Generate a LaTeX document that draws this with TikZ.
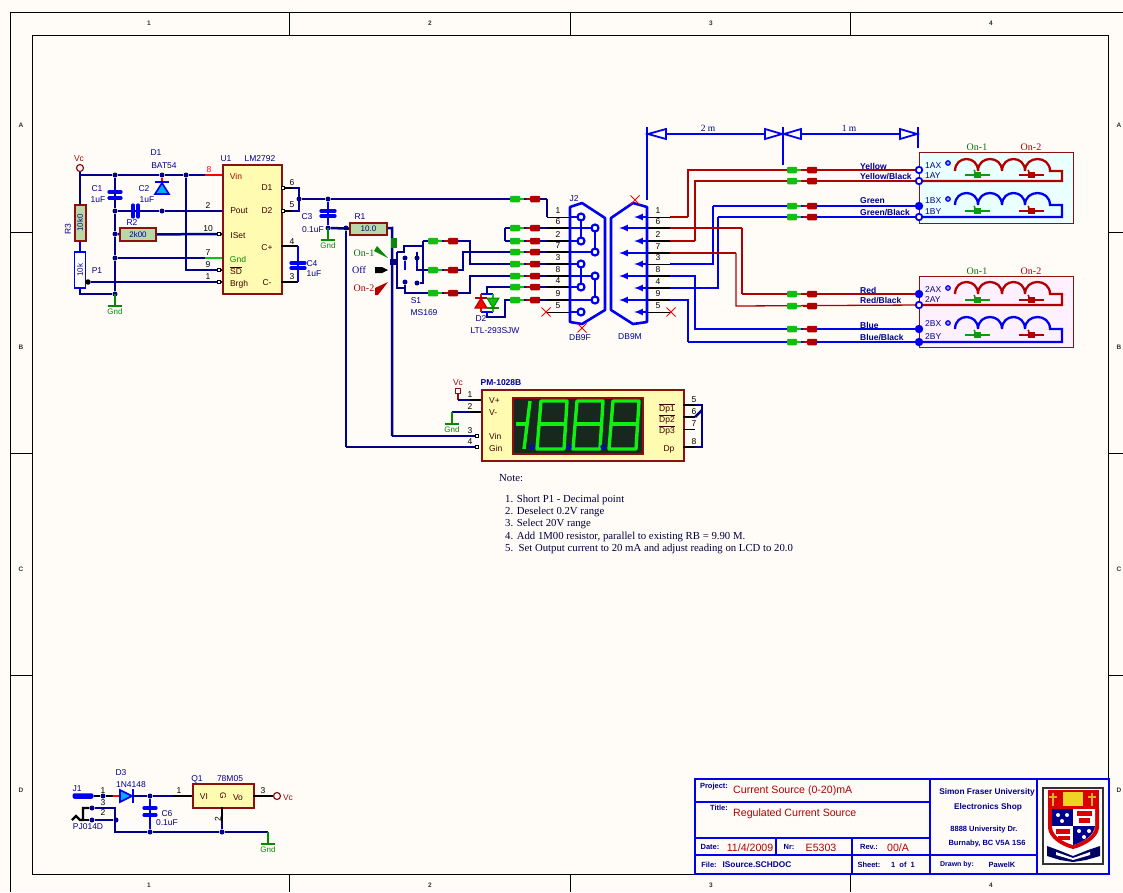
\documentclass[tikz,border=0pt]{standalone}
\usepackage{fontspec}
\setmainfont{Liberation Sans}
\newfontfamily\notefont{Liberation Serif}
\usetikzlibrary{shapes.misc}
\definecolor{paper}{HTML}{FFFCF7}
\definecolor{navy}{HTML}{00008C}
\definecolor{pure}{HTML}{0000F0}
\definecolor{maroon}{HTML}{8C1010}
\definecolor{wred}{HTML}{B00000}
\definecolor{chip}{HTML}{FFFBB0}
\definecolor{resfill}{HTML}{B8D8A8}
\definecolor{gndgreen}{HTML}{008C00}
\definecolor{plgreen}{HTML}{10C010}
\definecolor{lcdback}{HTML}{18281E}
\definecolor{lcdseg}{HTML}{10F010}
\definecolor{cyanbox}{HTML}{EAFFFF}
\definecolor{pinkbox}{HTML}{FFF0FF}
\tikzstyle{frame} = [draw=black, line width=1pt]
\tikzstyle{zone} = [font={\fontsize{6.5}{7}\selectfont\bfseries}, inner sep=0pt, text=black!80]
\tikzstyle{lbl} = [font={\fontsize{8.5}{9}\selectfont}, inner sep=0pt, text=navy]
\tikzstyle{pinlbl} = [font={\fontsize{8.5}{9}\selectfont}, inner sep=0pt, text=black!75!red]
\tikzstyle{pinnum} = [font={\fontsize{8.5}{9}\selectfont}, inner sep=0pt, text=black]
\tikzstyle{gndlbl} = [font={\fontsize{8}{9}\selectfont}, inner sep=0pt, text=gndgreen]
\tikzstyle{wirelbl} = [font={\fontsize{8.5}{9}\selectfont\bfseries}, inner sep=0pt, text=navy, anchor=west]
\tikzstyle{serif} = [font={\fontsize{10}{11}\selectfont\notefont}, inner sep=0pt]
\tikzstyle{notetxt} = [font={\fontsize{10.75}{11}\selectfont\notefont}, inner sep=0pt, anchor=west, text=black!75!blue]
\tikzstyle{wthick} = [draw=navy, line width=2.5pt]
\tikzstyle{wthin} = [draw=navy, line width=1.3pt]
\tikzstyle{redthick} = [draw=wred, line width=2.7pt]
\tikzstyle{redthin} = [draw=wred, line width=1.3pt]
\tikzstyle{bluethick} = [draw=pure, line width=2.7pt]
\tikzstyle{bluethin} = [draw=pure, line width=1.3pt]
\tikzstyle{pinthick} = [draw=black, line width=2.4pt]
\tikzstyle{pinthin} = [draw=black, line width=0.9pt]
\tikzstyle{gndwire} = [draw=gndgreen, line width=1.8pt]
\tikzstyle{gndbar} = [draw=gndgreen, line width=2.6pt]
\tikzstyle{plate} = [draw=pure, line width=3.2pt, line cap=round]
\tikzstyle{dot} = [circle, fill=navy, inner sep=0pt, minimum size=5pt]
\tikzstyle{bub} = [draw=black, fill=white, line width=0.7pt, inner sep=0pt, minimum size=3.5pt]
\tikzstyle{ic} = [draw=maroon, fill=chip, line width=2.2pt, anchor=north west, inner sep=0pt]
\tikzstyle{res} = [draw=maroon, fill=resfill, line width=2pt, font={\fontsize{8}{9}\selectfont}, text=navy, inner sep=0pt]
\tikzstyle{plugg} = [fill=plgreen, rounded corners=1pt, minimum width=10pt, minimum height=6.5pt, inner sep=0pt]
\tikzstyle{plugr} = [fill=wred, rounded corners=1pt, minimum width=10pt, minimum height=6.5pt, inner sep=0pt]
\tikzstyle{noconn} = [cross out, draw=red, minimum size=8pt, inner sep=0pt, line width=1pt]
\tikzstyle{term} = [circle, draw=pure, fill=white, line width=1.8pt, inner sep=0pt, minimum size=6.5pt]
\tikzstyle{termf} = [term, fill=pure]
\tikzstyle{dsub} = [draw=pure, line width=2.6pt, line join=round]
\tikzstyle{socket} = [circle, draw=pure, fill=white, line width=2.2pt, inner sep=0pt, minimum size=7pt]
\tikzstyle{seg} = [draw=lcdseg, line width=3.4pt, line join=round]
\tikzstyle{tbox} = [draw=pure, line width=1.7pt]
\tikzstyle{tlbl} = [font={\fontsize{7.5}{8}\selectfont\bfseries}, inner sep=0pt, text=navy]
\tikzstyle{orglbl} = [font={\fontsize{8.3}{9}\selectfont\bfseries}, inner sep=0pt, text=navy]
\tikzstyle{tval} = [font={\fontsize{10.6}{11}\selectfont}, inner sep=0pt, text=wred]
\newcommand{\plugpair}[3]{
    \node[plugg] (#1g) at (#2,#3) {};
    \node[plugr] (#1r) at (#2+20,#3) {};
    \draw[draw=plgreen, line width=1.8pt] (#1g) -- +(9,0);
    \draw[draw=wred, line width=1.8pt] (#1r) -- +(-9,0);
}
\newcommand{\gndmark}[3]{
    \coordinate (#1bar) at (#2,#3+12);
    \draw[gndwire] (#2,#3) -- (#1bar);
    \draw[gndbar] (#2-7,#3+12) -- (#2+7,#3+12);
    \node[gndlbl] (#1txt) at (#2,#3+18) {Gnd};
}
\newcommand{\drawcoil}[3]{
    \draw[draw=#3, line width=2.3pt] (955,#2) .. controls (955,#2-16) and (978,#2-16) .. (978,#2)
        .. controls (978,#2-16) and (1002,#2-16) .. (1002,#2)
        .. controls (1002,#2-16) and (1025,#2-16) .. (1025,#2)
        .. controls (1025,#2-16) and (1050,#2-16) .. (1050,#2) -- (1062,#2) -- (1062,#1) -- (919,#1);
}
\newcommand{\coilarrow}[4]{
    \node[fill=#4, minimum width=7pt, minimum height=6pt, inner sep=0pt] (#1) at (#2,#3) {};
    \draw[draw=#4, line width=1.8pt] (#2-12,#3) -- (#2+13,#3);
    \draw[draw=#4, line width=1.6pt] (#1) -- +(-3,-5);
}
\newcommand{\eightseg}[1]{
    \draw[seg] (#1+4,401) -- (#1+30,401) -- (#1+27,449) -- (#1,449) -- cycle;
    \draw[seg] (#1+2,424) -- (#1+28,424);
}

\begin{document}
\begin{tikzpicture}[x=1pt,y=-1pt]
    \useasboundingbox[fill=paper] (0,0) rectangle (1123,892);
    \draw[frame] (10,892) -- (10,12) -- (1123,12);
    \draw[frame] (32,35) rectangle (1108,874);
    \foreach \tx in {289,570,850} {
        \draw[frame] (\tx,12) -- (\tx,35);
        \draw[frame] (\tx,874) -- (\tx,892);
    }
    \foreach \ty in {232,453,675} {
        \draw[frame] (10,\ty) -- (32,\ty);
        \draw[frame] (1108,\ty) -- (1123,\ty);
    }
    \foreach \zn/\zx in {1/149,2/430,3/711,4/991} {
        \node[zone] (zt\zn) at (\zx,23) {\zn};
        \node[zone] (zb\zn) at (\zx,885) {\zn};
    }
    \foreach \zn/\zy in {A/125,B/347,C/569,D/790} {
        \node[zone] (zl\zn) at (21,\zy) {\zn};
        \node[zone] (zr\zn) at (1119,\zy) {\zn};
    }

    \node[ic, minimum width=59pt, minimum height=129pt] (U1) at (222,164) {};
    \node[lbl] (U1ref) at (226,159) {U1};
    \node[lbl] (U1val) at (260,159) {LM2792};
    \node[pinlbl, text=wred] (U1vin) at (236,176) {Vin};
    \node[pinlbl] (U1pout) at (239,211) {Pout};
    \node[pinlbl] (U1iset) at (238,236) {ISet};
    \node[pinlbl, text=gndgreen] (U1gnd) at (238,259) {Gnd};
    \node[pinlbl] (U1sd) at (236,271) {$\overline{\mbox{SD}}$};
    \node[pinlbl] (U1brgh) at (239,284) {Brgh};
    \node[pinlbl] (U1d1) at (267,188) {D1};
    \node[pinlbl] (U1d2) at (267,211) {D2};
    \node[pinlbl] (U1cp) at (267,248) {C+};
    \node[pinlbl] (U1cm) at (267,283) {C-};

    \coordinate (jvin) at (205,175);
    \coordinate (pvin) at (222,175);
    \coordinate (pgnd) at (222,258);
    \coordinate (jgnd) at (205,258);
    \node[circle, draw=maroon, fill=paper, line width=1.2pt, inner sep=0pt, minimum size=7pt] (vc1) at (80,168) {};
    \node[lbl, text=maroon] (vc1txt) at (79,159) {Vc};
    \node[dot] (n1) at (115,175) {};
    \node[dot] (n2) at (162,175) {};
    \node[dot] (n3) at (186,175) {};
    \node[dot] (n4) at (115,211) {};
    \node[dot] (n5) at (162,211) {};
    \node[dot] (n6) at (115,234) {};
    \node[dot] (n7) at (115,258) {};
    \node[dot] (n8) at (115,294) {};
    \draw[wthick] (vc1) -- (80,175) -- (n1);
    \draw[wthick] (n1) -- (n2) -- (n3) -- (jvin);
    \draw[draw=red, line width=1.2pt] (jvin) -- (pvin);
    \draw[wthick] (n1) -- (n4) -- (n6) -- (n7) -- (n8);
    \draw[wthick] (n4) -- (n5) -- (222,211);
    \draw[wthin] (n7) -- (jgnd);
    \draw[draw=plgreen, line width=1.2pt] (jgnd) -- (pgnd);
    \draw[wthin] (n3) -- (186,270) -- (222,270);
    \node[res, minimum width=36pt, minimum height=13pt] (R2) at (138,234.5) {2k00};
    \draw[wthick] (n6) -- (R2) -- (222,234);
    \node[lbl] (R2ref) at (132,223) {R2};
    \node[res, rotate=90, minimum width=36pt, minimum height=11pt] (R3) at (80,223) {10k0};
    \node[lbl, rotate=90] (R3ref) at (68,229) {R3};
    \node[draw=pure, fill=white, line width=1.7pt, rotate=90, minimum width=36pt, minimum height=11pt, inner sep=0pt, text=navy, font={\fontsize{8}{9}\selectfont}] (P1) at (80,270) {10k};
    \node[lbl] (P1ref) at (97,271) {P1};
    \draw[wthick] (vc1) -- (R3);
    \draw[draw=pure, line width=2.4pt] (R3) -- (P1);
    \node[circle, fill=black, inner sep=0pt, minimum size=5.5pt] (P1w) at (88,282) {};
    \draw[wthick] (P1w) -- (222,282);
    \draw[wthick] (P1) -- (80,294) -- (n8);
    \gndmark{g1}{115}{294}
    \node[lbl] (C1ref) at (97,189) {C1};
    \node[lbl] (C1val) at (98,200) {1uF};
    \node[lbl] (C2ref) at (144,189) {C2};
    \node[lbl] (C2val) at (147,200) {1uF};
    \node[lbl] (D1ref) at (156,153) {D1};
    \node[lbl] (D1val) at (164,166) {BAT54};
    \draw[plate] (109,192) -- (121,192);
    \draw[plate] (109,198) -- (121,198);
    \draw[plate] (133,205) -- (133,217);
    \draw[plate] (138,205) -- (138,217);
    \draw[draw=red, line width=1.8pt] (n2) -- (162,182);
    \draw[draw=pure, fill=cyan, line width=1.6pt] (155,194) -- (169,194) -- (162,183) -- cycle;
    \draw[draw=pure, line width=2pt] (155,182) -- (169,182);

    \foreach \pn/\py in {2/211,10/234,7/258,9/270,1/282} {
        \node[pinnum] (un\pn) at (208,\py-5) {\pn};
    }
    \node[pinnum, text=red] (un8) at (209,170) {8};
    \node[bub] (bset) at (219,234) {};
    \node[bub] (bsd) at (219,270) {};
    \node[bub] (bbr) at (219,282) {};
    \node[bub] (bd1) at (283,188) {};
    \node[bub] (bd2) at (283,211) {};
    \coordinate (cpout) at (281,246);
    \coordinate (cmout) at (281,282);
    \node[dot] (n9) at (299,199) {};
    \draw[pinthick] (bd1) -- (292,188);
    \draw[pinthick] (bd2) -- (292,211);
    \draw[wthick] (292,188) -- (299,188) -- (299,211) -- (292,211);
    \draw[pinthick] (cpout) -- (298,246);
    \draw[pinthick] (cmout) -- (298,282);
    \draw[draw=pure, line width=2pt] (298,246) -- (298,282);
    \draw[plate] (291,263) -- (305,263);
    \draw[plate] (291,268) -- (305,268);
    \foreach \pn/\py in {6/183,5/205,4/242,3/277} {
        \node[pinnum] (ur\pn) at (292,\py) {\pn};
    }
    \node[lbl] (C4ref) at (312,264) {C4};
    \node[lbl] (C4val) at (314,274) {1uF};

    \foreach \pn/\py/\pw in {1/217/pinthin,6/228/pinthick,2/241/pinthick,7/252/pinthick,3/264/pinthick,8/276/pinthick,4/287/pinthick,9/300/pinthick,5/312/pinthin} {
        \coordinate (jp\pn) at (547,\py);
        \coordinate (jf\pn) at (570,\py);
        \draw[\pw] (jp\pn) -- (jf\pn);
        \node[pinnum] (jn\pn) at (558,\py-6) {\pn};
    }
    \foreach \pn/\py/\pw in {1/217/pinthin,6/228/pinthick,2/241/pinthick,7/253/pinthick,3/264/pinthin,8/276/pinthick,4/288/pinthick,9/300/pinthick,5/312/pinthin} {
        \coordinate (mp\pn) at (670,\py);
        \coordinate (mf\pn) at (647,\py);
        \draw[\pw] (mf\pn) -- (mp\pn);
        \node[pinnum] (mn\pn) at (658,\py-6) {\pn};
    }

    \coordinate (t1ax) at (919,170);
    \coordinate (t1ay) at (919,181);
    \coordinate (t1bx) at (919,206);
    \coordinate (t1by) at (919,217);
    \coordinate (t2ax) at (919,294);
    \coordinate (t2ay) at (919,305);
    \coordinate (t2bx) at (919,329);
    \coordinate (t2by) at (919,342);
    \node[dot] (n10) at (328,199) {};
    \draw[wthick] (n9) -- (n10) -- (547,199);
    \draw[wthin] (547,199) -- (jp1);
    \node[dot] (n11) at (328,228) {};
    \node[dot] (n12) at (346,228) {};
    \draw[draw=pure, line width=2pt] (n10) -- (n11);
    \draw[plate] (321,211) -- (335,211);
    \draw[plate] (321,216) -- (335,216);
    \gndmark{g2}{328}{228}
    \node[lbl] (C3ref) at (307,217) {C3};
    \node[lbl] (C3val) at (313,230) {0.1uF};
    \node[res, minimum width=37pt, minimum height=12pt] (R1) at (368.5,229) {10.0};
    \node[lbl] (R1ref) at (360,217) {R1};
    \draw[wthick] (n11) -- (R1);
    \coordinate (glo) at (346,447);
    \coordinate (vhi) at (392,436);
    \draw[wthin] (n12) -- (glo);
    \draw[wthick] (R1) -- (392,228) -- (vhi);

    \node[serif, text=plgreen!60!black] (on1txt) at (364,253) {On-1};
    \node[serif, text=navy] (offtxt) at (359,270) {Off};
    \node[serif, text=wred] (on2txt) at (364,288) {On-2};
    \fill[plgreen!70!black] (374,251) -- (377,246) -- (388,258) -- cycle;
    \fill[black] (375,267) -- (382,267) -- (388,270) -- (382,273) -- (375,273) -- cycle;
    \fill[wred] (375,288) -- (388,282) -- (378,295) -- (375,295) -- cycle;
    \fill[plgreen!70!black] (391,238) rectangle (397,248);
    \node[rectangle, fill=navy, inner sep=0pt, minimum size=6pt] (swc) at (393,262) {};
    \node[dot] (s1) at (405,258) {};
    \node[dot] (s2) at (417,258) {};
    \node[dot] (s3) at (405,282) {};
    \node[dot] (s4) at (417,283) {};
    \draw[wthick] (397,252) -- (404,252) -- (404,246) -- (423,246) -- (423,241);
    \draw[wthick] (397,252) -- (397,288) -- (405,288);
    \draw[wthick] (s3) -- (405,293) -- (428,293);
    \draw[wthick] (417,252) -- (s2);
    \draw[wthick] (417,252) -- (417,270) -- (428,270);
    \draw[wthick] (423,246) -- (423,283) -- (s4);
    \draw[draw=pure, line width=1.8pt] (s1) -- (405,270);
    \draw[draw=pure, line width=1.8pt] (s2) -- (417,266);
    \node[lbl] (S1ref) at (416,301) {S1};
    \node[lbl] (S1val) at (424,313) {MS169};
    \draw[wthick] (423,241) -- (470,241) -- (470,264) -- (jp3);
    \draw[wthick] (428,270) -- (463,270) -- (463,252) -- (jp7);
    \draw[wthick] (428,293) -- (470,293) -- (470,276) -- (jp8);
    \draw[wthick] (505,228) -- (505,241);
    \draw[wthick] (505,228) -- (jp6);
    \draw[wthick] (505,241) -- (jp2);
    \draw[wthick] (jp4) -- (487,287) -- (487,294);
    \draw[wthick] (jp9) -- (505,300) -- (505,317) -- (487,317) -- (487,312);
    \draw[draw=pure, line width=1.8pt] (481,294) -- (493,294);
    \draw[draw=pure, line width=1.8pt] (481,312) -- (493,312);
    \draw[draw=red, line width=1.4pt] (481,294) -- (481,312);
    \draw[draw=plgreen, line width=1.4pt] (493,294) -- (493,312);
    \draw[draw=wred, fill=red, line width=1pt] (475,308) -- (487,308) -- (481,298) -- cycle;
    \draw[draw=wred, line width=2pt] (475,298) -- (487,298);
    \draw[draw=plgreen!70!black, fill=plgreen, line width=1pt] (487,298) -- (499,298) -- (493,308) -- cycle;
    \draw[draw=plgreen!70!black, line width=2pt] (487,308) -- (499,308);
    \node[lbl] (D2ref) at (481,319) {D2};
    \node[lbl] (D2val) at (495,331) {LTL-293SJW};

    \plugpair{pa}{515}{199}
    \plugpair{pb}{515}{228}
    \plugpair{pc}{515}{241}
    \plugpair{pd}{515}{252}
    \plugpair{pe}{515}{264}
    \plugpair{pf}{515}{276}
    \plugpair{pg}{515}{287}
    \plugpair{ph}{515}{300}
    \plugpair{pi}{433}{241}
    \plugpair{pj}{433}{270}
    \plugpair{pk}{433}{293}

    \draw[dsub] (570,207) -- (582,203) -- (605,218) -- (605,310) -- (582,324) -- (570,322) -- cycle;
    \draw[draw=pure, line width=1.5pt] (581,217) -- (581,240);
    \draw[draw=pure, line width=1.5pt] (595,228) -- (595,253);
    \draw[draw=pure, line width=1.5pt] (581,263) -- (581,287);
    \draw[draw=pure, line width=1.5pt] (595,276) -- (595,299);
    \foreach \pn/\py in {1/217,2/241,3/264,4/287,5/312} {
        \draw[draw=pure, line width=2pt] (jf\pn) -- (581,\py);
        \node[socket] (sk\pn) at (581,\py) {};
    }
    \foreach \pn/\py in {6/228,7/252,8/276,9/300} {
        \draw[draw=pure, line width=2pt] (jf\pn) -- (595,\py);
        \node[socket] (sk\pn) at (595,\py) {};
    }
    \node[lbl] (J2ref) at (574,199) {J2};
    \node[lbl] (DBF) at (580,338) {DB9F};
    \node[noconn] (xa) at (582,328) {};
    \node[noconn] (xb) at (546,312) {};

    \draw[dsub] (611,218) -- (633,203) -- (647,207) -- (647,322) -- (633,324) -- (611,310) -- cycle;
    \foreach \pn/\py in {1/217,2/241,3/264,4/288,5/312} {
        \coordinate (mt\pn) at (634,\py);
        \draw[draw=pure, line width=2pt, -latex] (mf\pn) -- (mt\pn);
    }
    \foreach \pn/\py in {6/228,7/253,8/276,9/300} {
        \coordinate (mt\pn) at (619,\py);
        \draw[draw=pure, line width=2pt, -latex] (mf\pn) -- (mt\pn);
    }
    \node[lbl] (DBM) at (630,337) {DB9M};
    \node[noconn] (xc) at (635,200) {};
    \node[noconn] (xd) at (671,312) {};

    \node[draw=maroon, fill=cyanbox, line width=1.4pt, anchor=north west, minimum width=154pt, minimum height=71pt, inner sep=0pt] (boxa) at (919,152) {};
    \node[draw=maroon, fill=pinkbox, line width=1.4pt, anchor=north west, minimum width=154pt, minimum height=71pt, inner sep=0pt] (boxb) at (919,276) {};

    \draw[redthin] (mp1) -- (688,217);
    \draw[redthick] (688,217) -- (688,170) -- (t1ax);
    \draw[redthick] (mp2) -- (695,241);
    \draw[redthin] (695,241) -- (695,181) -- (t1ay);
    \draw[bluethin] (mp3) -- (713,264) -- (713,206);
    \draw[bluethick] (713,206) -- (t1bx);
    \draw[bluethick] (mp4) -- (718,288) -- (718,217);
    \draw[bluethin] (718,217) -- (t1by);
    \draw[redthick] (mp6) -- (742,228);
    \draw[redthin] (742,228) -- (742,294);
    \draw[redthick] (742,294) -- (t2ax);
    \draw[redthick] (mp7) -- (736,253);
    \draw[redthin] (736,253) -- (736,306) -- (t2ay);
    \draw[bluethick] (mp8) -- (695,276) -- (695,329) -- (t2bx);
    \draw[bluethick] (mp9) -- (688,300) -- (688,342);
    \draw[bluethin] (688,342) -- (t2by);
    \plugpair{qa}{792}{170}
    \plugpair{qb}{792}{181}
    \plugpair{qc}{792}{206}
    \plugpair{qd}{792}{217}
    \plugpair{qe}{792}{294}
    \plugpair{qf}{792}{306}
    \plugpair{qg}{792}{329}
    \plugpair{qh}{792}{342}

    \coordinate (dima) at (647,134);
    \coordinate (dimb) at (783,134);
    \coordinate (dimc) at (918,134);
    \draw[draw=pure, line width=2.2pt] (647,127) -- (647,200);
    \draw[draw=pure, line width=1.1pt] (783,127) -- (783,165);
    \draw[draw=pure, line width=2.2pt] (918,127) -- (918,148);
    \draw[draw=pure, line width=1.2pt] (dima) -- (dimb) -- (dimc);
    \foreach \ax/\bx in {648/666,782/765,784/801,917/900} {
        \draw[draw=pure, fill=paper, line width=1.8pt] (\ax,134) -- (\bx,129) -- (\bx,139) -- cycle;
    }
    \node[pinnum, font={\fontsize{9.5}{10}\selectfont\notefont}, text=navy] (dim2) at (708,128) {2 m};
    \node[pinnum, font={\fontsize{9.5}{10}\selectfont\notefont}, text=navy] (dim1) at (849,128) {1 m};

    \node[wirelbl] (la) at (860,166) {Yellow};
    \node[wirelbl] (lb) at (860,176) {Yellow/Black};
    \node[wirelbl] (lc) at (860,201) {Green};
    \node[wirelbl] (ld) at (860,212) {Green/Black};
    \node[wirelbl] (le) at (860,290) {Red};
    \node[wirelbl] (lf) at (860,300) {Red/Black};
    \node[wirelbl] (lg) at (860,325) {Blue};
    \node[wirelbl] (lh) at (860,337) {Blue/Black};

    \drawcoil{181}{171}{wred}
    \drawcoil{217}{205}{pure}
    \drawcoil{305}{294}{wred}
    \drawcoil{342}{329}{pure}
    \foreach \tn/\ty/\tk in {ta/170/term,tb/181/term,tc/206/termf,td/217/term,te/294/termf,tf/305/term,tg/329/termf,th/342/termf} {
        \node[\tk] (\tn) at (919,\ty) {};
    }
    \draw[draw=wred, line width=1.6pt] (ta) -- (t1ax);
    \foreach \pn/\py/\pt in {pa/166/1AX,pb/176/1AY,pc/201/1BX,pd/212/1BY,pe/290/2AX,pf/300/2AY,pg/324/2BX,ph/337/2BY} {
        \node[pinlbl, text=navy, anchor=west] (\pn t) at (925,\py) {\pt};
    }
    \foreach \dn/\dy in {da/163,db/199,dc/288,dd/323} {
        \node[circle, draw=pure, fill=pure!40, line width=1.2pt, inner sep=0pt, minimum size=4.5pt] (\dn) at (948,\dy) {};
    }
    \coilarrow{ca}{977}{175}{plgreen!80!black}
    \coilarrow{cb}{1031}{175}{wred}
    \coilarrow{cc}{977}{211}{plgreen!80!black}
    \coilarrow{cd}{1031}{211}{wred}
    \coilarrow{ce}{977}{300}{plgreen!80!black}
    \coilarrow{cf}{1031}{300}{wred}
    \coilarrow{cg}{977}{335}{plgreen!80!black}
    \coilarrow{ch}{1031}{335}{wred}
    \foreach \on/\oy in {a/147,b/271} {
        \node[serif, text=plgreen!60!black] (ona\on) at (977,\oy) {On-1};
        \node[serif, text=wred] (onb\on) at (1031,\oy) {On-2};
    }

    \node[ic, minimum width=202pt, minimum height=71pt] (PM) at (481,389) {};
    \node[lbl, font={\fontsize{8.5}{9}\selectfont\bfseries}] (PMref) at (501,383) {PM-1028B};
    \node[draw=maroon, fill=lcdback, line width=1.8pt, anchor=north west, minimum width=130pt, minimum height=56pt, inner sep=0pt] (LCD) at (512,397) {};
    \draw[seg] (516,424) -- (528,424);
    \draw[seg] (530,401) -- (524,449);
    \eightseg{537}
    \eightseg{573}
    \eightseg{609}
    \foreach \dx in {532,569,603} {
        \draw[draw=pure, line width=1.2pt] (\dx,447) circle[radius=2pt];
    }
    \foreach \pn/\py/\pt in {1/401/V+,2/413/V-,3/436/Vin,4/448/Gin} {
        \node[pinlbl, anchor=west] (ml\pn) at (489,\py) {\pt};
    }
    \node[pinlbl] (Dp1) at (667,408) {$\overline{\mbox{Dp1}}$};
    \node[pinlbl] (Dp2) at (667,419) {$\overline{\mbox{Dp2}}$};
    \node[pinlbl] (Dp3) at (667,430) {$\overline{\mbox{Dp3}}$};
    \node[pinlbl] (Dp) at (669,449) {Dp};
    \foreach \pn/\py in {1/395,2/407,3/431,4/442} {
        \node[pinnum] (mm\pn) at (470,\py) {\pn};
    }
    \foreach \pn/\py in {5/400,6/412,7/424,8/442} {
        \node[pinnum] (mq\pn) at (694,\py) {\pn};
    }
    \node[rectangle, draw=maroon, fill=paper, line width=1.2pt, inner sep=0pt, minimum size=5pt] (vc2) at (458,391) {};
    \node[lbl, text=maroon] (vc2txt) at (458,383) {Vc};
    \draw[draw=maroon, line width=1.2pt] (vc2) -- (458,400);
    \draw[wthick] (458,400) -- (470,400);
    \draw[pinthick] (470,400) -- (481,400);
    \draw[wthick] (452,412) -- (470,412);
    \draw[pinthick] (470,412) -- (481,412);
    \gndmark{g3}{452}{412}
    \draw[wthick] (vhi) -- (478,436);
    \draw[wthick] (glo) -- (478,447);
    \node[bub] (bvin) at (477,436) {};
    \node[bub] (bgin) at (477,447) {};
    \draw[pinthick] (683,405) -- (695,405);
    \draw[pinthick] (683,417) -- (695,417);
    \draw[pinthin] (683,429) -- (695,429);
    \draw[pinthick] (683,447) -- (695,447);
    \draw[wthick] (695,405) -- (702,405) -- (702,447) -- (695,447);
    \draw[wthick] (695,417) -- (702,410);

    \node[notetxt] (note0) at (499,478) {Note:};
    \node[notetxt] (note1) at (505,500) {1. Short P1 - Decimal point};
    \node[notetxt] (note2) at (505,512) {2. Deselect 0.2V range};
    \node[notetxt] (note3) at (505,524) {3. Select 20V range};
    \node[notetxt] (note4) at (505,537) {4. Add 1M00 resistor, parallel to existing RB = 9.90 M.};
    \node[notetxt] (note5) at (505,549) {5.\ \ Set Output current to 20 mA and adjust reading on LCD to 20.0};

    \node[fill=pure, rounded corners=2pt, minimum width=21pt, minimum height=5.5pt, inner sep=0pt] (J1plug) at (83,796) {};
    \node[lbl] (J1ref) at (77,789) {J1};
    \node[lbl] (J1val) at (88,827) {PJ014D};
    \node[dot] (k1) at (103,796) {};
    \node[dot] (k2) at (150,796) {};
    \node[dot] (k3) at (92,808) {};
    \node[dot] (k4) at (92,820) {};
    \node[dot] (k5) at (116,820) {};
    \node[dot] (k6) at (150,832) {};
    \node[dot] (k7) at (222,832) {};
    \draw[pinthick] (J1plug) -- (k1);
    \draw[pinthick] (k1) -- (113,796);
    \draw[draw=red, line width=1.8pt] (113,796) -- (120,796);
    \draw[pinthick] (72,820) -- (76,816) -- (80,820) -- (83,820) -- (83,808) -- (k3);
    \draw[wthin] (k4) -- (k5);
    \draw[draw=black, line width=1.2pt] (83,820) -- (k4);
    \draw[wthick] (k3) -- (115,808) -- (115,832) -- (k6) -- (k7) -- (268,832);
    \node[pinnum] (jn1x) at (103,791) {1};
    \node[pinnum] (jn3x) at (103,803) {3};
    \node[pinnum] (jn2x) at (103,813) {2};
    \draw[draw=pure, fill=cyan, line width=1.6pt] (120,790) -- (120,802) -- (132,796) -- cycle;
    \draw[draw=pure, line width=2.4pt] (133,789) -- (133,803);
    \node[lbl] (D3ref) at (121,773) {D3};
    \node[lbl] (D3val) at (131,785) {1N4148};
    \draw[wthick] (133,796) -- (k2) -- (173,796);
    \draw[pinthick] (173,796) -- (192,796);
    \node[pinnum] (qn1) at (179,791) {1};
    \draw[draw=pure, line width=2pt] (k2) -- (k6);
    \draw[plate] (144,808) -- (156,808);
    \draw[plate] (144,815) -- (156,815);
    \node[lbl] (C6ref) at (167,814) {C6};
    \node[lbl] (C6val) at (167,823) {0.1uF};
    \node[ic, minimum width=61pt, minimum height=24pt] (Q1) at (192,783) {};
    \node[lbl] (Q1ref) at (197,779) {Q1};
    \node[lbl] (Q1val) at (230,779) {78M05};
    \node[pinlbl] (Q1vi) at (204,797) {VI};
    \node[pinlbl, rotate=-90] (Q1g) at (223,796) {G};
    \node[pinlbl] (Q1vo) at (238,798) {Vo};
    \node[circle, draw=maroon, fill=paper, line width=1.2pt, inner sep=0pt, minimum size=7pt] (vc3) at (277,796) {};
    \node[lbl, text=maroon] (vc3txt) at (288,798) {Vc};
    \draw[pinthick] (253,796) -- (vc3);
    \node[pinnum] (qn3) at (263,791) {3};
    \draw[draw=black, line width=1.2pt] (222,807) -- (222,822);
    \draw[wthick] (222,822) -- (k7);
    \node[pinnum, rotate=90] (qn2) at (218,819) {2};
    \gndmark{g4}{268}{832}

    \node[tbox, fill=paper, anchor=north west, minimum width=414pt, minimum height=95pt, inner sep=0pt] (title) at (694,778) {};
    \draw[tbox] (930,778) -- (930,873);
    \draw[tbox] (1037,778) -- (1037,873);
    \draw[tbox] (694,802) -- (930,802);
    \draw[tbox] (694,838) -- (930,838);
    \draw[tbox] (694,855) -- (1037,855);
    \draw[tbox] (776,838) -- (776,855);
    \draw[tbox] (852,838) -- (852,873);
    \node[tlbl] (tproj) at (714,787) {Project:};
    \node[tval, anchor=west] (vproj) at (733,791) {Current Source (0-20)mA};
    \node[tlbl] (ttit) at (719,808) {Title:};
    \node[tval, anchor=west] (vtit) at (733,814) {Regulated Current Source};
    \node[tlbl] (tdate) at (710,847) {Date:};
    \node[tval] (vdate) at (750,848) {11/4/2009};
    \node[tlbl] (tnr) at (789,847) {Nr:};
    \node[tval] (vnr) at (821,848) {E5303};
    \node[tlbl] (trev) at (869,847) {Rev.:};
    \node[tval] (vrev) at (898,848) {00/A};
    \node[tlbl] (tfile) at (709,865) {File:};
    \node[orglbl] (vfile) at (757,865) {ISource.SCHDOC};
    \node[tlbl] (tsheet) at (869,865) {Sheet:};
    \node[tlbl] (vsheet) at (903,865) {1\ \ of\ \ 1};
    \node[tlbl, font={\fontsize{7}{8}\selectfont\bfseries}] (tdrawn) at (957,865) {Drawn by:};
    \node[tlbl] (vdrawn) at (1002,865) {PawelK};
    \node[orglbl] (org1) at (987,792) {Simon Fraser University};
    \node[orglbl] (org2) at (988,807) {Electronics Shop};
    \node[tlbl] (org3) at (984,830) {8888 University Dr.};
    \node[tlbl] (org4) at (987,844) {Burnaby, BC V5A 1S6};

    \draw[draw=black!80, fill=white, line width=1.4pt] (1043,788) rectangle (1103,864);
    \fill[red!85!black] (1048,790) rectangle (1099,809);
    \fill[yellow!70!brown] (1063,792) rectangle (1083,806);
    \draw[draw=brown!60!yellow, line width=1.5pt] (1053,793) -- (1053,806) (1049,797) -- (1057,797);
    \draw[draw=brown!60!yellow, line width=1.5pt] (1092,793) -- (1092,806) (1088,797) -- (1096,797);
    \fill[red!85!black] (1048,809) -- (1099,809) -- (1099,828) .. controls (1098,838) and (1085,846) .. (1073,849) .. controls (1061,846) and (1049,838) .. (1048,828) -- cycle;
    \fill[white] (1052,809) -- (1095,809) -- (1095,827) .. controls (1094,836) and (1083,842) .. (1073,845) .. controls (1063,842) and (1053,836) .. (1052,827) -- cycle;
    \fill[navy] (1052,809) rectangle (1073,826);
    \fill[navy] (1073,826) -- (1095,826) .. controls (1094,836) and (1083,842) .. (1073,845) -- cycle;
    \fill[red!85!black] (1077,811) rectangle (1092,816);
    \fill[red!85!black] (1079,818) rectangle (1090,823);
    \fill[red!85!black] (1056,829) rectangle (1070,834);
    \fill[red!85!black] (1058,836) rectangle (1070,840);
    \foreach \sx/\sy in {1058/815,1067/815,1062/821,1079/831,1089/831,1084/837} {
        \fill[white] (\sx,\sy) circle[radius=2pt];
    }
    \fill[navy!70!black] (1047,846) -- (1058,850) -- (1073,856) -- (1088,850) -- (1100,846) -- (1100,856) -- (1086,860) -- (1073,862) -- (1060,860) -- (1047,856) -- cycle;
    \fill[white] (1056,852) -- (1073,858) -- (1090,852) -- (1090,855) -- (1073,860) -- (1056,855) -- cycle;
\end{tikzpicture}
\end{document}
